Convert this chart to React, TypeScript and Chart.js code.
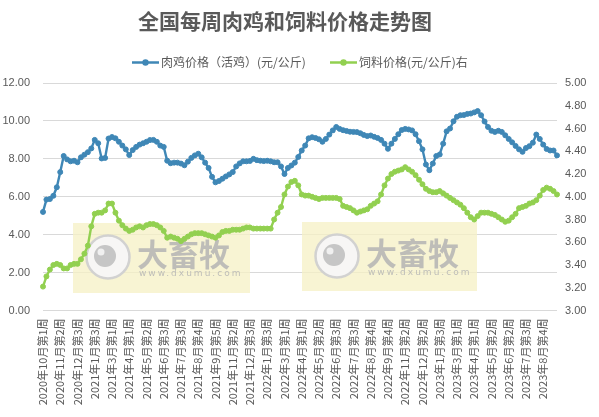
import React, { useEffect, useRef } from 'react';
import { Chart, registerables } from 'chart.js';

Chart.register(...registerables);

const TITLE = '全国每周肉鸡和饲料价格走势图';
const SERIES_CHICKEN = '肉鸡价格（活鸡）(元/公斤)';
const SERIES_FEED = '饲料价格(元/公斤)右';

const TICK_LABELS = [
  '2020年10月第1周', '2020年11月第2周', '2020年12月第3周', '2021年1月第3周', '2021年3月第1周',
  '2021年4月第1周', '2021年5月第2周', '2021年6月第3周', '2021年7月第3周', '2021年8月第4周',
  '2021年9月第5周', '2021年11月第2周', '2021年12月第3周', '2022年1月第3周', '2022年3月第1周',
  '2022年4月第1周', '2022年5月第2周', '2022年6月第3周', '2022年7月第3周', '2022年8月第4周',
  '2022年9月第4周', '2022年11月第2周', '2022年12月第2周', '2023年1月第3周', '2023年3月第1周',
  '2023年4月第1周', '2023年5月第2周', '2023年6月第2周', '2023年7月第3周', '2023年8月第4周',
];
const TICK_EVERY = 5;

const CHICKEN = [
  5.2, 5.85, 5.88, 6.05, 6.5, 7.3, 8.15, 7.97, 7.87, 7.9,
  7.82, 8.08, 8.22, 8.35, 8.55, 9.0, 8.82, 8.02, 8.05, 9.07,
  9.15, 9.08, 8.9, 8.7, 8.5, 8.2, 8.46, 8.63, 8.75, 8.82,
  8.9, 8.99, 9.0, 8.9, 8.7, 8.63, 7.9, 7.77, 7.8, 7.8,
  7.75, 7.66, 7.85, 8.05, 8.18, 8.27, 8.08, 7.8, 7.52, 7.05,
  6.76, 6.83, 6.95, 7.07, 7.18, 7.3, 7.6, 7.76, 7.87, 7.87,
  7.89, 8.0, 7.93, 7.9, 7.88, 7.9, 7.87, 7.82, 7.82, 7.6,
  7.2, 7.52, 7.65, 7.8, 8.1, 8.44, 8.7, 9.08, 9.14, 9.1,
  9.03, 8.9, 9.05, 9.28, 9.5, 9.68, 9.58, 9.51, 9.47, 9.43,
  9.42, 9.41, 9.35, 9.26, 9.2, 9.23, 9.16, 9.1, 9.0, 8.8,
  8.53, 8.8, 9.05, 9.3, 9.52, 9.58, 9.55, 9.5, 9.3, 8.93,
  8.5, 7.7, 7.4, 7.75, 8.15, 8.23, 8.8, 9.45, 9.6, 9.98,
  10.22, 10.3, 10.31, 10.37, 10.39, 10.45, 10.52, 10.3, 9.97, 9.68,
  9.48, 9.42, 9.48, 9.42, 9.24, 9.05, 8.87, 8.68, 8.5, 8.37,
  8.57, 8.67, 8.85, 9.28, 9.05, 8.75, 8.52, 8.44, 8.44, 8.18,
];

const FEED = [
  3.21, 3.30, 3.36, 3.40, 3.41, 3.40, 3.37, 3.37, 3.40, 3.41,
  3.41, 3.45, 3.50, 3.57, 3.74, 3.85, 3.86, 3.86, 3.88, 3.94,
  3.94, 3.86, 3.79, 3.75, 3.72, 3.70, 3.71, 3.73, 3.74, 3.73,
  3.75, 3.76, 3.76, 3.75, 3.73, 3.70, 3.64, 3.65, 3.64, 3.63,
  3.61, 3.63, 3.65, 3.67, 3.68, 3.68, 3.68, 3.67, 3.66, 3.65,
  3.64, 3.66, 3.69, 3.70, 3.70, 3.71, 3.71, 3.71, 3.72, 3.73,
  3.73, 3.72, 3.72, 3.72, 3.72, 3.72, 3.72, 3.80, 3.86, 3.91,
  4.02, 4.09, 4.13, 4.14, 4.10, 4.02, 4.01, 4.01, 4.00, 3.99,
  3.98, 3.99, 3.99, 3.99, 3.99, 3.99, 3.98, 3.92, 3.91, 3.90,
  3.88, 3.86, 3.87, 3.88, 3.89, 3.92, 3.94, 3.96, 4.02, 4.10,
  4.16, 4.20, 4.22, 4.23, 4.24, 4.26, 4.24, 4.22, 4.19, 4.15,
  4.11, 4.07, 4.05, 4.04, 4.04, 4.05, 4.03, 4.01, 3.99, 3.97,
  3.95, 3.93, 3.90, 3.86, 3.82, 3.80, 3.83, 3.86, 3.86, 3.86,
  3.85, 3.84, 3.82, 3.80, 3.78, 3.79, 3.82, 3.85, 3.90, 3.91,
  3.92, 3.94, 3.95, 3.97, 4.01, 4.06, 4.08, 4.07, 4.05, 4.02,
];

const LEFT_AXIS = { min: 0, max: 12, step: 2 };
const RIGHT_AXIS = { min: 3, max: 5, step: 0.2 };

const CATEGORIES = CHICKEN.map((_, i) =>
  i % TICK_EVERY === 0 ? TICK_LABELS[i / TICK_EVERY] ?? '' : ''
);

const BLUE = '#3f87b6';
const GREEN = '#92d050';
const TEXT = '#595959';
const GRID = '#d9d9d9';
const CJK = '"Noto Sans CJK SC", "Liberation Sans", sans-serif';
const NUM = '"Liberation Sans", "Noto Sans CJK SC", sans-serif';

const WATERMARKS = [
  { x: 73, y: 223, w: 177, h: 70 },
  { x: 302, y: 222, w: 175, h: 69 },
];

const decorPlugin = {
  id: 'decor',
  beforeDatasetsDraw(chart: any) {
    const ctx = chart.ctx as CanvasRenderingContext2D;
    for (const m of WATERMARKS) {
      ctx.save();
      ctx.fillStyle = 'rgba(246,240,196,0.75)';
      ctx.fillRect(m.x, m.y, m.w, m.h);
      const cx = m.x + 35;
      const cy = m.y + 34;
      ctx.beginPath();
      ctx.arc(cx, cy, 21.5, 0, Math.PI * 2);
      ctx.fillStyle = 'rgba(247,247,247,0.95)';
      ctx.fill();
      ctx.lineWidth = 2.5;
      ctx.strokeStyle = 'rgba(208,208,208,0.95)';
      ctx.stroke();
      ctx.beginPath();
      ctx.arc(cx - 3, cy - 1, 11, 0, Math.PI * 2);
      ctx.fillStyle = '#c6c6c6';
      ctx.fill();
      ctx.beginPath();
      ctx.arc(cx - 7, cy - 5, 3.5, 0, Math.PI * 2);
      ctx.fillStyle = '#f0f0f0';
      ctx.fill();
      ctx.fillStyle = 'rgba(180,180,180,0.85)';
      ctx.textAlign = 'left';
      ctx.textBaseline = 'middle';
      ctx.font = `bold 31px ${CJK}`;
      ctx.fillText('大畜牧', m.x + 64, m.y + 31);
      ctx.font = `9px "DejaVu Sans", sans-serif`;
      (ctx as any).letterSpacing = '2px';
      ctx.fillText('www.dxumu.com', m.x + 66, m.y + 51);
      ctx.restore();
    }
  },
  afterDraw(chart: any) {
    const ctx = chart.ctx as CanvasRenderingContext2D;
    ctx.save();
    ctx.fillStyle = TEXT;
    ctx.textAlign = 'center';
    ctx.textBaseline = 'middle';
    ctx.font = `bold 21px ${CJK}`;
    ctx.fillText(TITLE, 285, 21);

    const items = [
      { label: SERIES_CHICKEN, color: BLUE, x: 132 },
      { label: SERIES_FEED, color: GREEN, x: 330 },
    ];
    const ly = 62.5;
    ctx.font = `12px ${CJK}`;
    ctx.textAlign = 'left';
    for (const it of items) {
      ctx.strokeStyle = it.color;
      ctx.lineWidth = 2.5;
      ctx.beginPath();
      ctx.moveTo(it.x, ly);
      ctx.lineTo(it.x + 27, ly);
      ctx.stroke();
      ctx.beginPath();
      ctx.arc(it.x + 13.5, ly, 3.2, 0, Math.PI * 2);
      ctx.fillStyle = it.color;
      ctx.fill();
      ctx.fillStyle = TEXT;
      ctx.fillText(it.label, it.x + 29, ly);
    }
    ctx.restore();
  },
};

export default function App() {
  const ref = useRef<HTMLCanvasElement>(null);

  useEffect(() => {
    if (!ref.current) return;
    const chart = new Chart(ref.current, {
      type: 'line',
      data: {
        labels: CATEGORIES,
        datasets: [
          {
            label: SERIES_CHICKEN,
            data: CHICKEN,
            yAxisID: 'y',
            borderColor: BLUE,
            backgroundColor: BLUE,
            borderWidth: 2.4,
            pointRadius: 2.5,
            pointBorderWidth: 1,
            pointBackgroundColor: BLUE,
            pointBorderColor: BLUE,
            tension: 0,
          },
          {
            label: SERIES_FEED,
            data: FEED,
            yAxisID: 'y1',
            borderColor: GREEN,
            backgroundColor: GREEN,
            borderWidth: 2.4,
            pointRadius: 2.5,
            pointBorderWidth: 1,
            pointBackgroundColor: GREEN,
            pointBorderColor: GREEN,
            tension: 0,
          },
        ],
      },
      options: {
        responsive: false,
        animation: false,
        layout: { padding: { top: 83, left: 0, right: 0, bottom: 0 } },
        plugins: {
          legend: { display: false },
          title: { display: false },
          tooltip: { enabled: false },
        },
        scales: {
          x: {
            type: 'category',
            offset: false,
            grid: { display: false, drawTicks: false },
            border: { display: false },
            ticks: {
              autoSkip: false,
              maxRotation: 90,
              minRotation: 90,
              padding: 8,
              color: TEXT,
              font: { family: CJK, size: 11 },
            },
            afterFit: (s: any) => {
              s.height = 106.5;
            },
          },
          y: {
            position: 'left',
            min: LEFT_AXIS.min,
            max: LEFT_AXIS.max,
            grid: { color: GRID, lineWidth: 1, drawTicks: false },
            border: { display: false },
            ticks: {
              stepSize: LEFT_AXIS.step,
              padding: 13,
              color: TEXT,
              font: { family: NUM, size: 11 },
              callback: (v: any) => Number(v).toFixed(2),
            },
            afterFit: (s: any) => {
              s.width = 43;
            },
          },
          y1: {
            position: 'right',
            min: RIGHT_AXIS.min,
            max: RIGHT_AXIS.max,
            grid: { drawOnChartArea: false, drawTicks: false },
            border: { display: false },
            ticks: {
              stepSize: RIGHT_AXIS.step,
              padding: 8,
              color: TEXT,
              font: { family: NUM, size: 11 },
              callback: (v: any) => Number(v).toFixed(2),
            },
            afterFit: (s: any) => {
              s.width = 42;
            },
          },
        },
      },
      plugins: [decorPlugin],
    });
    return () => chart.destroy();
  }, []);

  return (
    <div style={{ position: 'fixed', left: 0, top: 0, width: 599, height: 417, background: '#fff' }}>
      <canvas ref={ref} width={599} height={417} />
    </div>
  );
}
